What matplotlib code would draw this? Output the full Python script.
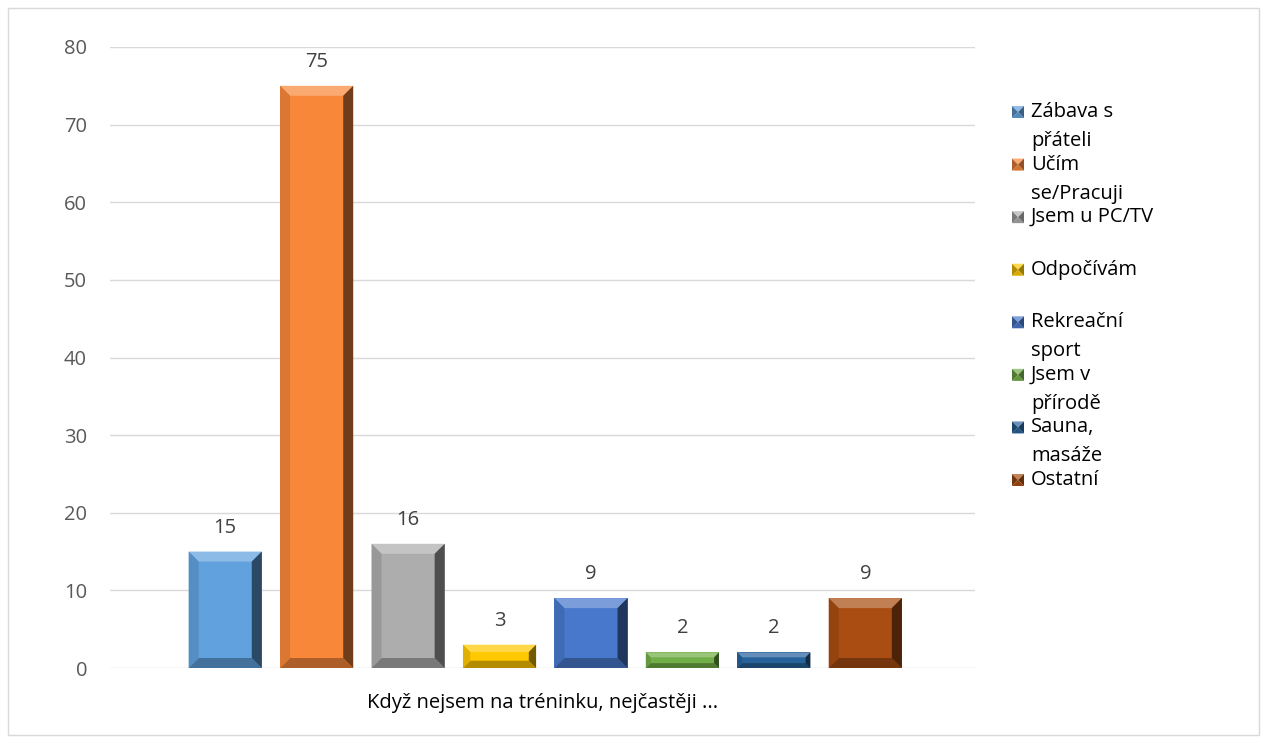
import numpy as np
import matplotlib
matplotlib.use('Agg')
import matplotlib.pyplot as plt
from matplotlib.patches import Polygon, Rectangle
from matplotlib.colors import to_rgb

plt.rcParams['font.family'] = ['Open Sans', 'DejaVu Sans']

# data
kategorie = ['Zábava s\npřáteli', 'Učím\nse/Pracuji', 'Jsem u PC/TV', 'Odpočívám',
             'Rekreační\nsport', 'Jsem v\npřírodě', 'Sauna,\nmasáže', 'Ostatní']
hodnoty = [15, 75, 16, 3, 9, 2, 2, 9]
barvy = ['#60A1DE', '#F8873A', '#ADADAD', '#FFC800',
         '#4878CC', '#72AE48', '#28629B', '#A94D12']
popisek_x = 'Když nejsem na tréninku, nejčastěji ...'
y_ticky = [0, 10, 20, 30, 40, 50, 60, 70, 80]

W, H = 1267, 743
FS = 14.5
fig = plt.figure(figsize=(W / 100, H / 100), dpi=100)
ax = fig.add_axes([110 / W, 75 / H, 865 / W, 621 / H])

# ramecek kolem grafu
fig.patches.append(Rectangle((8 / W, 8 / H), 1 - 16 / W, 1 - 16 / H,
                             transform=fig.transFigure, fill=False,
                             edgecolor='#D9D9D9', linewidth=1))

x = np.arange(len(hodnoty))
xlim = (-1.26, 8.20)
ylim = (0, 80)
ax.set_xlim(*xlim)
ax.set_ylim(*ylim)

def mix(c, t, k):
    c = np.array(to_rgb(c))
    return tuple(c + (np.array(t) - c) * k)

bars = ax.bar(x, hodnoty, width=0.8, color=barvy, zorder=3)

# zkoseni hran (bevel)
px_x = 865 / (xlim[1] - xlim[0])
px_y = 621 / (ylim[1] - ylim[0])
for b, c in zip(bars, barvy):
    x0, x1 = b.get_x(), b.get_x() + b.get_width()
    y0, y1 = 0, b.get_height()
    bp = min(10, y1 * px_y / 3.2)
    bx, by = bp / px_x, bp / px_y
    top = [(x0, y1), (x1, y1), (x1 - bx, y1 - by), (x0 + bx, y1 - by)]
    bot = [(x0, y0), (x1, y0), (x1 - bx, y0 + by), (x0 + bx, y0 + by)]
    lft = [(x0, y0), (x0, y1), (x0 + bx, y1 - by), (x0 + bx, y0 + by)]
    rgt = [(x1, y0), (x1, y1), (x1 - bx, y1 - by), (x1 - bx, y0 + by)]
    for poly, col in [(top, mix(c, (1, 1, 1), 0.28)), (bot, mix(c, (0, 0, 0), 0.3)),
                      (lft, mix(c, (0, 0, 0), 0.12)), (rgt, mix(c, (0, 0, 0), 0.55))]:
        ax.add_patch(Polygon(poly, closed=True, facecolor=col, edgecolor='none', zorder=4))

for xi, v in zip(x, hodnoty):
    ax.annotate(str(v), (xi, v), xytext=(0, 24), textcoords='offset pixels',
                ha='center', va='center', fontsize=FS, color='#404040')

ax.set_yticks(y_ticky)
ax.set_xticks([])
ax.grid(axis='y', color='#D9D9D9', linewidth=1, zorder=0)
ax.set_axisbelow(True)
for s in ax.spines.values():
    s.set_visible(False)
ax.tick_params(axis='y', length=0, pad=16.5, labelsize=FS, labelcolor='#595959')
ax.annotate(popisek_x, (0.5, 0), xycoords='axes fraction', xytext=(0, -35),
            textcoords='offset pixels', ha='center', va='center',
            fontsize=FS, color='#000000')

# legenda
leg_y = np.linspace(112, 480, len(kategorie))
s = 12
for yy, lab, c in zip(leg_y, kategorie, barvy):
    lx, ly = 1012, yy + s / 2   # levy dolni roh v pixelech (shora)
    cx, cy = lx + s / 2, yy
    def P(px, py):
        return (px / W, 1 - py / H)
    tri = [([P(lx, ly - s), P(lx + s, ly - s), P(cx, cy)], mix(c, (1, 1, 1), 0.3)),
           ([P(lx, ly), P(lx + s, ly), P(cx, cy)], mix(c, (0, 0, 0), 0.15)),
           ([P(lx, ly), P(lx, ly - s), P(cx, cy)], mix(c, (0, 0, 0), 0.3)),
           ([P(lx + s, ly), P(lx + s, ly - s), P(cx, cy)], mix(c, (0, 0, 0), 0.4))]
    for pts, col in tri:
        fig.patches.append(Polygon(pts, closed=True, transform=fig.transFigure,
                                   facecolor=col, edgecolor='none'))
    fig.text(1031 / W, 1 - (yy - 10) / H, lab, ha='left', va='top', fontsize=FS,
             color='#000000', linespacing=1.6)

fig.savefig('out.png', dpi=100)
